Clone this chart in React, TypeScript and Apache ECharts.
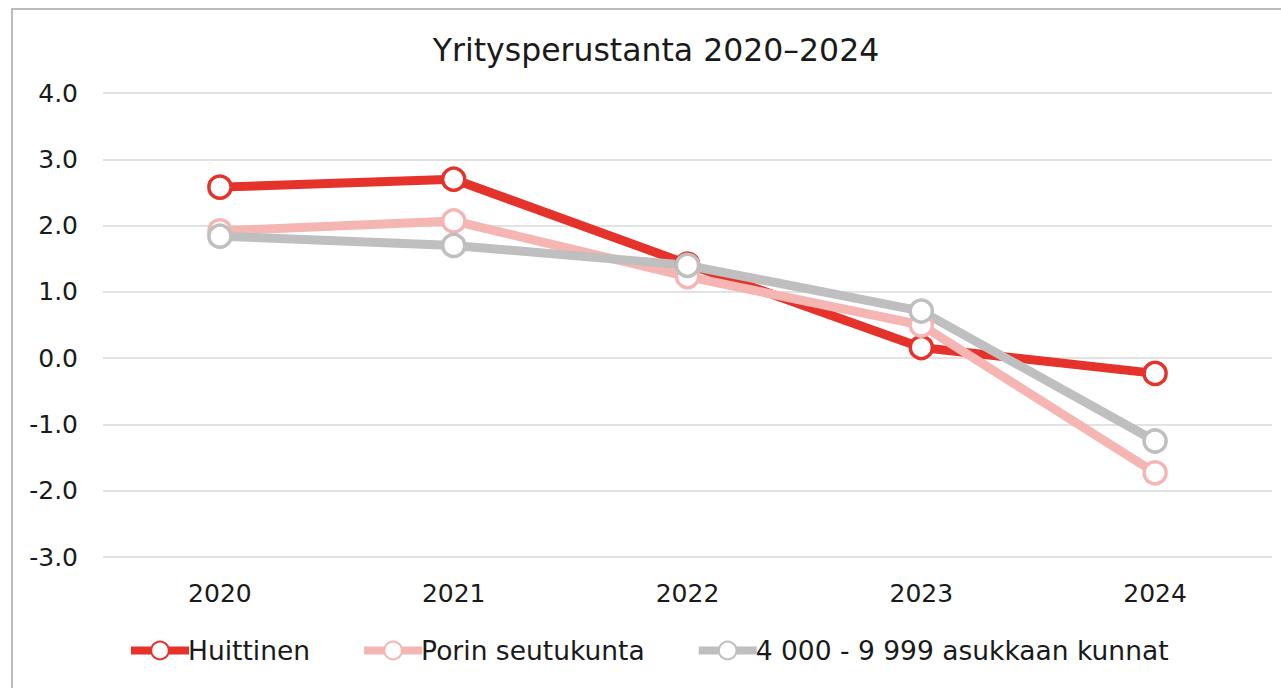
import React, { useEffect, useRef } from "react";
import * as echarts from "echarts";

const years = ["2020", "2021", "2022", "2023", "2024"];
const huittinen = [2.58, 2.7, 1.42, 0.16, -0.23];
const porin = [1.92, 2.07, 1.23, 0.5, -1.73];
const kunnat = [1.84, 1.7, 1.4, 0.71, -1.25];

const seriesNames = ["Huittinen", "Porin seutukunta", "4 000 - 9 999 asukkaan kunnat"];
const seriesColors = ["#e5322a", "#f5b6b3", "#bfbfbf"];
const seriesData = [huittinen, porin, kunnat];

const FONT = "DejaVu Sans";

export default function App() {
  const ref = useRef<HTMLDivElement>(null);
  useEffect(() => {
    if (!ref.current) return;
    const chart = echarts.init(ref.current, undefined, { renderer: "svg" });
    chart.setOption({
      animation: false,
      backgroundColor: "#ffffff",
      textStyle: { fontFamily: FONT, color: "#1a1a1a" },
      graphic: [
        {
          type: "rect",
          shape: { x: 12, y: 9, width: 1400, height: 800 },
          style: { fill: "none", stroke: "#a6a6a6", lineWidth: 1.5 },
          silent: true,
        },
      ],
      title: {
        text: "Yritysperustanta 2020–2024",
        left: 651,
        top: 29,
        textAlign: "center",
        textStyle: { fontFamily: FONT, fontSize: 31.5, fontWeight: "normal", color: "#1a1a1a" },
      },
      legend: {
        left: 122,
        top: 632,
        itemWidth: 58,
        itemHeight: 22,
        itemGap: 50,
        lineStyle: { width: 8 },
        textStyle: { fontFamily: FONT, fontSize: 26.5, color: "#1a1a1a", padding: [0, 0, 0, -6] },
        data: seriesNames,
      },
      grid: { left: 103, right: 9, top: 93, bottom: 131, containLabel: false },
      xAxis: {
        type: "category",
        data: years,
        boundaryGap: true,
        axisLine: { show: false },
        axisTick: { show: false },
        axisLabel: { fontFamily: FONT, fontSize: 25, color: "#1a1a1a", margin: 24 },
      },
      yAxis: {
        type: "value",
        min: -3,
        max: 4,
        interval: 1,
        axisLine: { show: false },
        axisTick: { show: false },
        axisLabel: {
          fontFamily: FONT,
          fontSize: 25,
          color: "#1a1a1a",
          margin: 25,
          formatter: (v: number) => v.toFixed(1),
        },
        splitLine: { lineStyle: { color: "#d9d9d9", width: 1.5 } },
      },
      series: seriesNames.map((name, i) => ({
        name,
        type: "line",
        data: seriesData[i],
        symbol: "circle",
        symbolSize: 22,
        lineStyle: { color: seriesColors[i], width: 9 },
        itemStyle: { color: "#ffffff", borderColor: seriesColors[i], borderWidth: 3.5 },
        emphasis: { disabled: true },
      })),
    });
    return () => chart.dispose();
  }, []);
  return (
    <div
      ref={ref}
      style={{ position: "fixed", left: 0, top: 0, width: 1281, height: 688 }}
    />
  );
}
